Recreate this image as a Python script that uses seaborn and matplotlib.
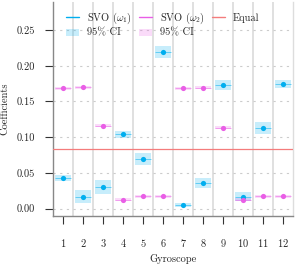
import matplotlib
matplotlib.use("Agg")
from matplotlib import pyplot as plt
from matplotlib.lines import Line2D
from matplotlib.patches import Patch
import seaborn as sns
import pandas as pd
import numpy as np

# gyroscope index
gyro = [1, 2, 3, 4, 5, 6, 7, 8, 9, 10, 11, 12]
# SVO omega_1 and its 95% CI half width
w1 = [0.0434, 0.0164, 0.030, 0.104, 0.0696, 0.2195, 0.0052, 0.0356, 0.173, 0.0168, 0.113, 0.1747]
w1_ci = [0.0042, 0.0093, 0.0098, 0.005, 0.0086, 0.0086, 0.003, 0.007, 0.007, 0.006, 0.008, 0.006]
# SVO omega_2 and its 95% CI half width
w2 = [0.1686, 0.170, 0.1158, 0.0126, 0.0174, 0.0174, 0.1686, 0.1695, 0.1134, 0.0126, 0.0174, 0.0174]
w2_ci = [0.0022, 0.0022, 0.0022, 0.0022, 0.0022, 0.0022, 0.0022, 0.0022, 0.0022, 0.0022, 0.0022, 0.0022]
equal = 1 / 12

c1 = "#00aeef"
c2 = "#e95ee6"
c_eq = "#f47c7c"

sns.set_style("ticks")
plt.rcParams["font.family"] = ["cmr10", "DejaVu Serif"]
plt.rcParams["mathtext.fontset"] = "cm"
plt.rcParams["axes.formatter.use_mathtext"] = True
plt.rcParams["font.size"] = 7.5

df1 = pd.DataFrame({"g": gyro, "v": w1, "ci": w1_ci})
df2 = pd.DataFrame({"g": gyro, "v": w2, "ci": w2_ci})

fig = plt.figure(figsize=(2.95, 2.67), dpi=100)
ax = fig.add_axes([0.18, 0.191, 0.813, 0.803])

for d, c in [(df1, c1), (df2, c2)]:
    ax.bar(d["g"], 2 * d["ci"], bottom=d["v"] - d["ci"], width=0.8,
           color=c, alpha=0.22, linewidth=0, zorder=2)
    ax.hlines(d["v"], d["g"] - 0.4, d["g"] + 0.4, color=c, lw=0.6, alpha=0.6, zorder=3)
    sns.scatterplot(data=d, x="g", y="v", color=c, s=14, linewidth=0, ax=ax, zorder=4)

ax.axhline(equal, color=c_eq, lw=0.9, zorder=3)

ax.set_xlim(0.5, 12.5)
ax.set_ylim(-0.0105, 0.29)
ax.set_xticks(gyro)
ax.set_yticks([0.0, 0.05, 0.10, 0.15, 0.20, 0.25])
ax.set_yticklabels(["0.00", "0.05", "0.10", "0.15", "0.20", "0.25"])
for xb in np.arange(1.5, 12.5, 1):
    ax.axvline(xb, color="#dddddd", lw=1.3, zorder=1)
for yv in [0.0, 0.05, 0.10, 0.15, 0.20, 0.25]:
    ax.axhline(yv, color="#cccccc", lw=0.8, ls=(0, (2, 4)), zorder=1)

sns.despine(ax=ax, top=True, right=False)
for s in ["left", "bottom", "right"]:
    ax.spines[s].set_color("#888888")
    ax.spines[s].set_linewidth(1.0)
ax.spines["right"].set_color("#dddddd")
ax.tick_params(axis="both", length=6, width=0.8, color="#333333", pad=7, labelsize=7.5)
ax.tick_params(axis="x", pad=9)

ax.set_xlabel("Gyroscope", fontsize=7.5, labelpad=4)
ax.set_ylabel("Coefficients", fontsize=7.5, labelpad=5)

handles = [
    Line2D([], [], color=c1, lw=1.0),
    Patch(facecolor=c1, alpha=0.22, linewidth=0),
    Line2D([], [], color=c2, lw=1.0),
    Patch(facecolor=c2, alpha=0.22, linewidth=0),
    Line2D([], [], color=c_eq, lw=1.0),
]
labels = [r"SVO ($\omega_1$)", "95% CI", r"SVO ($\omega_2$)", "95% CI", "Equal"]
ax.legend(handles, labels, ncol=3, loc="upper left", bbox_to_anchor=(0.015, 1.0),
          frameon=False, fontsize=7.5, handlelength=1.2, handletextpad=0.8,
          columnspacing=0.7, labelspacing=0.2, borderpad=0.4)

fig.savefig("out.png", dpi=100)
